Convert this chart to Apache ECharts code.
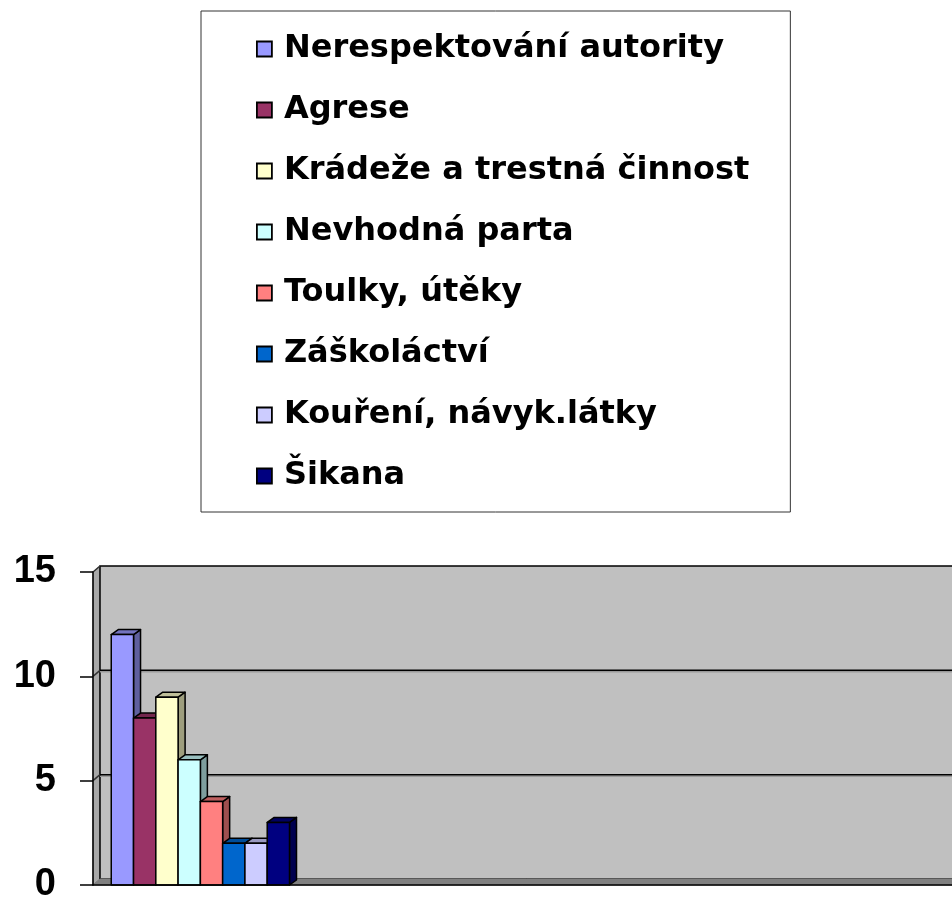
<!DOCTYPE html>
<html>
<head>
<meta charset="utf-8">
<script src="https://cdn.jsdelivr.net/npm/echarts@6/dist/echarts.min.js"></script>
<style>
  html, body { margin: 0; padding: 0; background: #fff; }
  #main { width: 952px; height: 904px; }
</style>
</head>
<body>
<div id="main"></div>
<script>
// data
let categories = ['', '', '', ''];
let seriesNames = [
  'Nerespektování autority',
  'Agrese',
  'Krádeže a trestná činnost',
  'Nevhodná parta',
  'Toulky, útěky',
  'Záškoláctví',
  'Kouření, návyk.látky',
  'Šikana'
];
let values = [12, 8, 9, 6, 4, 2, 2, 3];
let colors = ['#9999FF', '#993366', '#FFFFCC', '#CCFFFF', '#FF8080', '#0066CC', '#CCCCFF', '#000080'];
let yTicks = [0, 5, 10, 15];

let chartDom = document.getElementById('main');
let myChart = echarts.init(chartDom);
let option;

// 3D depth (px)
let wallDx = 7, wallDy = -6;
let barDx = 7, barDy = -5;
let groupShare = 0.83;

function shade(hex, f) {
  let n = parseInt(hex.slice(1), 16);
  let r = Math.round(((n >> 16) & 255) * f);
  let g = Math.round(((n >> 8) & 255) * f);
  let b = Math.round((n & 255) * f);
  return 'rgb(' + r + ',' + g + ',' + b + ')';
}

// 墙面（背景、侧面、底面）
function renderWalls(params, api) {
  let cs = params.coordSys;
  let x = cs.x, y = cs.y, w = cs.width, h = cs.height;
  let children = [];
  children.push({
    type: 'polygon',
    shape: { points: [[x, y + h], [x, y], [x + wallDx, y + wallDy], [x + wallDx, y + h + wallDy]] },
    style: { fill: '#A8A8A8', stroke: '#707070', lineWidth: 1 }
  });
  children.push({
    type: 'rect',
    shape: { x: x + wallDx, y: y + wallDy, width: w, height: h },
    style: { fill: '#C0C0C0', stroke: '#000', lineWidth: 1.5 }
  });
  children.push({
    type: 'polygon',
    shape: { points: [[x, y + h], [x + wallDx, y + h + wallDy], [x + w + wallDx, y + h + wallDy], [x + w, y + h]] },
    style: { fill: '#808080', stroke: '#808080', lineWidth: 1 }
  });
  yTicks.forEach(function (v) {
    if (v === 0) return;
    let py = api.coord([0, v])[1];
    children.push({
      type: 'line',
      shape: { x1: x, y1: py, x2: x + wallDx, y2: py + wallDy },
      style: { stroke: '#333', lineWidth: 1.5 }
    });
    if (v < yTicks[yTicks.length - 1]) {
      children.push({
        type: 'line',
        shape: { x1: x + wallDx, y1: py + wallDy + 1.5, x2: x + w + wallDx, y2: py + wallDy + 1.5 },
        style: { stroke: '#999', lineWidth: 1.5 }
      });
      children.push({
        type: 'line',
        shape: { x1: x + wallDx, y1: py + wallDy, x2: x + w + wallDx, y2: py + wallDy },
        style: { stroke: '#000', lineWidth: 1.5 }
      });
    }
  });
  return { type: 'group', children: children };
}

function barRenderer(i) {
  return function (params, api) {
    let cat = api.value(0);
    let top = api.coord([cat, api.value(1)]);
    let base = api.coord([cat, 0]);
    let band = api.size([1, 0])[0];
    let group = band * groupShare;
    let bw = group / seriesNames.length;
    let x0 = top[0] - group / 2 + i * bw;
    let x1 = x0 + bw;
    let yt = top[1], yb = base[1];
    let c = colors[i];
    let line = { stroke: '#000', lineWidth: 1.5, lineJoin: 'round' };
    return {
      type: 'group',
      children: [
        {
          type: 'polygon',
          shape: { points: [[x1, yb], [x1, yt], [x1 + barDx, yt + barDy], [x1 + barDx, yb + barDy]] },
          style: Object.assign({ fill: shade(c, 0.62) }, line)
        },
        {
          type: 'polygon',
          shape: { points: [[x0, yt], [x0 + barDx, yt + barDy], [x1 + barDx, yt + barDy], [x1, yt]] },
          style: Object.assign({ fill: shade(c, 0.75) }, line)
        },
        {
          type: 'rect',
          shape: { x: x0, y: yt, width: bw, height: yb - yt },
          style: Object.assign({ fill: c }, line)
        }
      ]
    };
  };
}

let series = [
  {
    name: 'walls',
    type: 'custom',
    z: 1,
    silent: true,
    renderItem: renderWalls,
    data: [[0, 0]],
    encode: { x: 0, y: 1 }
  }
];
seriesNames.forEach(function (name, i) {
  series.push({
    name: name,
    type: 'custom',
    z: 2,
    itemStyle: { color: colors[i] },
    renderItem: barRenderer(i),
    data: [[0, values[i]]],
    encode: { x: 0, y: 1 }
  });
});

option = {
  animation: false,
  textStyle: { fontFamily: 'Liberation Sans, Arial, sans-serif' },
  legend: {
    data: seriesNames,
    orient: 'vertical',
    left: 201,
    top: 11,
    padding: [22, 41, 20, 55],
    borderColor: '#333',
    borderWidth: 1,
    icon: 'rect',
    itemWidth: 15,
    itemHeight: 15,
    itemGap: 29,
    itemStyle: { borderColor: '#000', borderWidth: 1.8 },
    textStyle: {
      fontFamily: 'DejaVu Sans',
      fontSize: 32,
      lineHeight: 32,
      fontWeight: 'bold',
      color: '#000',
      padding: [0, 0, 0, 7]
    }
  },
  grid: {
    left: 93,
    top: 572,
    bottom: 12,
    right: -3
  },
  xAxis: {
    type: 'category',
    data: categories,
    axisLine: { lineStyle: { color: '#000', width: 1.5 } },
    axisTick: { length: 12, lineStyle: { color: '#000', width: 1.5 } },
    axisLabel: { show: false },
    z: 3
  },
  yAxis: {
    type: 'value',
    min: 0,
    max: 15,
    interval: 5,
    axisLine: { show: true, lineStyle: { color: '#000', width: 1.5 } },
    axisTick: { show: true, length: 13, lineStyle: { color: '#000', width: 1.5 } },
    splitLine: { show: false },
    axisLabel: {
      fontSize: 38,
      fontWeight: 'bold',
      color: '#000',
      margin: 37
    },
    z: 3
  },
  series: series
};

option && myChart.setOption(option);
</script>
</body>
</html>
